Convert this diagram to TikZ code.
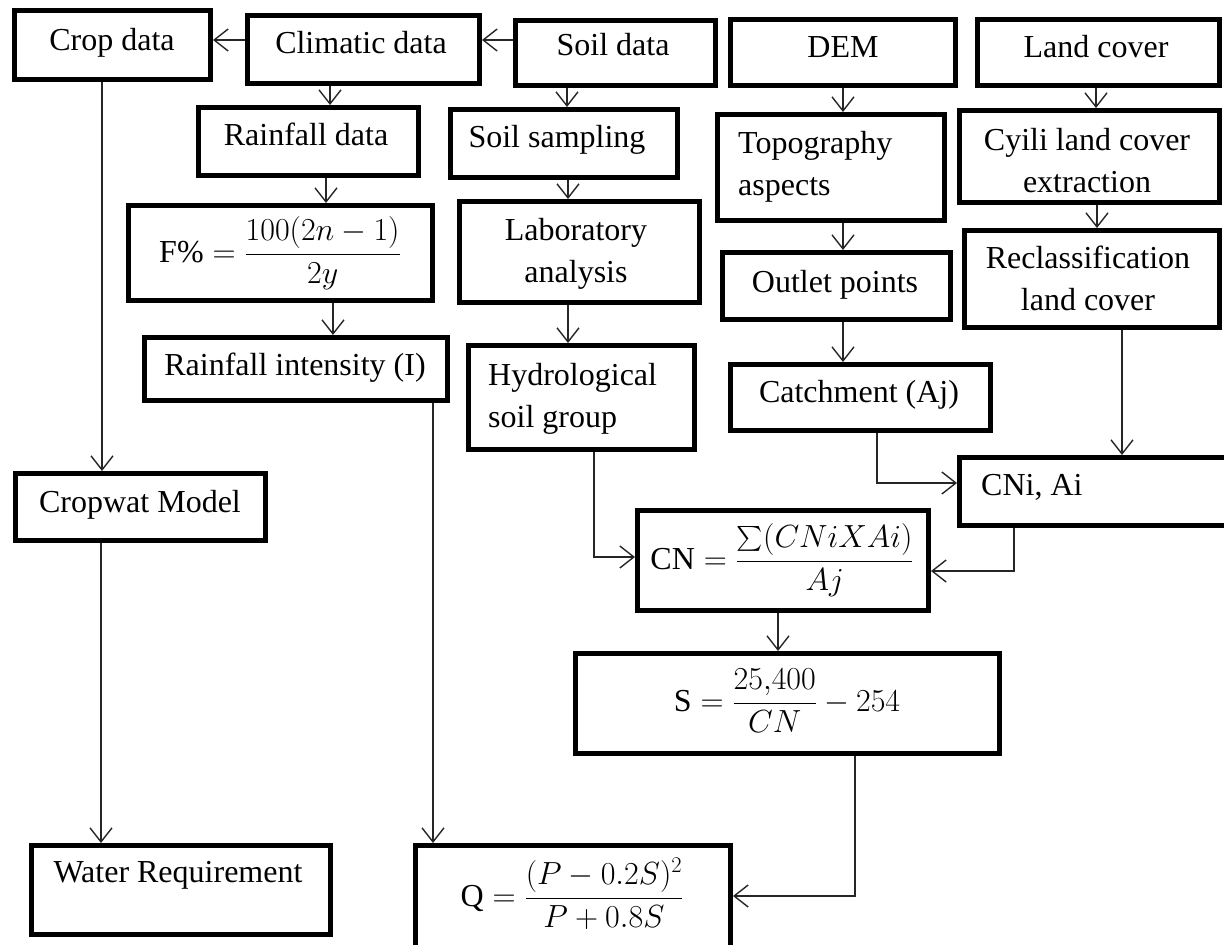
\RequirePackage{fix-cm}
\documentclass[tikz,border=0pt]{standalone}
\usepackage{amsmath}
\usepackage{fontspec}
\setmainfont{Liberation Serif}
\usetikzlibrary{arrows.meta}
\newcommand\twoc[2]{\begin{tabular}[t]{@{}c@{}}#1\\#2\end{tabular}}
\newcommand\twol[2]{\begin{tabular}[t]{@{}l@{}}#1\\#2\end{tabular}}
\newcommand\bx[5]{\node[box,minimum width={(#4)-(#2)-5},minimum height={(#5)-(#3)-5}] (#1) at ({((#2)+(#4))/2},{((#3)+(#5))/2}) {};}
\tikzset{
  box/.style={draw=black, line width=5pt, inner sep=0pt, fill=white},
  txt/.style={font=\fontsize{32}{42}\selectfont, inner sep=0pt, anchor=base},
  arr/.style={draw=black!85, line width=1.4pt, -{Straight Barb[length=14pt,width=22pt]}},
}
\begin{document}
\begin{tikzpicture}[x=1pt,y=-1pt]
\useasboundingbox (0,0) rectangle (1224,945);
\clip (0,0) rectangle (1224,945);
% boxes (outer extents)
\bx{crop}{12}{8}{213}{82}
\bx{clim}{245}{13}{482}{86}
\bx{soil}{513}{18}{718}{88}
\bx{dem}{728}{17}{958}{88}
\bx{land}{975}{17}{1222}{88}
\bx{rain}{196}{105}{421}{178}
\bx{ssamp}{448}{107}{680}{180}
\bx{topo}{715}{112}{947}{223}
\bx{cyili}{957}{108}{1222}{205}
\bx{fpct}{126}{203}{435}{303}
\bx{lab}{457}{199}{702}{305}
\bx{outlet}{720}{250}{953}{322}
\bx{reclass}{962}{228}{1222}{330}
\bx{ri}{142}{335}{450}{403}
\bx{hydro}{466}{343}{697}{452}
\bx{catch}{728}{362}{993}{433}
\bx{cni}{957}{455}{1232}{528}
\bx{cn}{635}{508}{931}{613}
\bx{cropwat}{13}{471}{268}{543}
\bx{s}{573}{651}{1002}{756}
\bx{wr}{29}{843}{333}{937}
\bx{q}{413}{843}{733}{960}
% texts
\node[txt] (tcrop) at (112,50) {Crop data};
\node[txt] (tclim) at (361,53) {Climatic data};
\node[txt] (tsoil) at (613,55) {Soil data};
\node[txt] (tdem) at (843,57) {DEM};
\node[txt] (tland) at (1096,57) {Land cover};
\node[txt] (train) at (306,145) {Rainfall data};
\node[txt] (tssamp) at (557,147) {Soil sampling};
\node[txt,anchor=base west] (ttopo) at (738,153) {\twol{Topography}{aspects}};
\node[txt] (tcyili) at (1087,150) {\twoc{Cyili land cover}{extraction}};
\node[txt] (tlab) at (576,240) {\twoc{Laboratory}{analysis}};
\node[txt] (toutlet) at (835,292) {Outlet points};
\node[txt] (treclass) at (1088,268) {\twoc{Reclassification}{land cover}};
\node[txt] (tri) at (295,375) {Rainfall intensity (I)};
\node[txt,anchor=base west] (thydro) at (488,385) {\twol{Hydrological}{soil group}};
\node[txt] (tcatch) at (859,402) {Catchment (Aj)};
\node[txt,anchor=base west] (tcni) at (981,495) {CNi, Ai};
\node[txt] (tcropwat) at (140,512) {Cropwat Model};
\node[txt] (twr) at (178,882) {Water Requirement};
% formulas
\node[txt] (ffpct) at (280,262) {F\%${}=\dfrac{100(2n-1)}{2y}$};
\node[txt] (fcn) at (782,569) {CN${}=\dfrac{\textstyle\sum(CNiXAi)}{Aj}$};
\node[txt] (fs) at (787,711) {S${}=\dfrac{25{,}400}{CN}-254$};
\node[txt] (fq) at (572,906) {Q${}=\dfrac{(P-0.2S)^2}{P+0.8S}$};
% connectors
\draw[arr] (clim.west |- 0,40) -- (crop.east |- 0,40);
\draw[arr] (soil.west |- 0,40) -- (clim.east |- 0,40);
\draw[arr] (clim.south -| 330,0) -- (rain.north -| 330,0);
\draw[arr] (soil.south -| 567,0) -- (ssamp.north -| 567,0);
\draw[arr] (dem.south -| 843,0) -- (topo.north -| 843,0);
\draw[arr] (land.south -| 1096,0) -- (cyili.north -| 1096,0);
\draw[arr] (rain.south -| 326,0) -- (fpct.north -| 326,0);
\draw[arr] (ssamp.south -| 568,0) -- (lab.north -| 568,0);
\draw[arr] (cyili.south -| 1097,0) -- (reclass.north -| 1097,0);
\draw[arr] (topo.south -| 843,0) -- (outlet.north -| 843,0);
\draw[arr] (fpct.south -| 333,0) -- (ri.north -| 333,0);
\draw[arr] (lab.south -| 568,0) -- (hydro.north -| 568,0);
\draw[arr] (outlet.south -| 843,0) -- (catch.north -| 843,0);
\draw[arr] (crop.south -| 102,0) -- (cropwat.north -| 102,0);
\draw[arr] (reclass.south -| 1122,0) -- (cni.north -| 1122,0);
\draw[arr] (catch.south -| 877,0) |- (cni.west |- 0,483);
\draw[arr] (hydro.south -| 594,0) |- (cn.west |- 0,557);
\draw[arr] (cni.south -| 1014,0) |- (cn.east |- 0,571);
\draw[arr] (cn.south -| 778,0) -- (s.north -| 778,0);
\draw[arr] (cropwat.south -| 101,0) -- (wr.north -| 101,0);
\draw[arr] (ri.south -| 433,0) -- (q.north -| 433,0);
\draw[arr] (s.south -| 855,0) |- (q.east |- 0,896);
\end{tikzpicture}
\end{document}
